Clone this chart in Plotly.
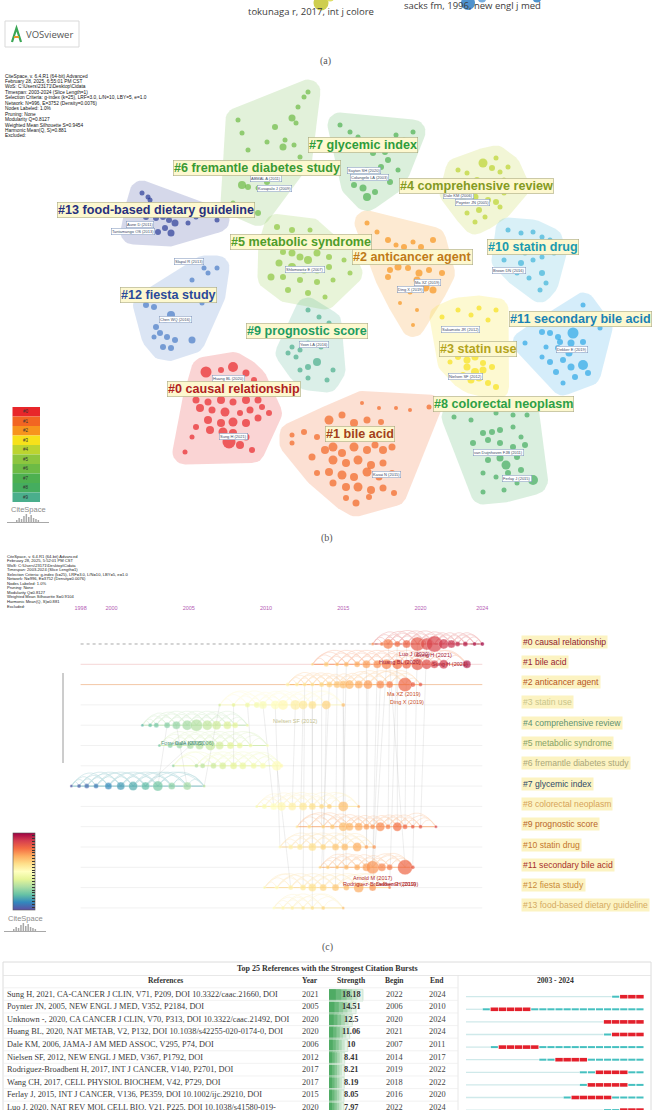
import numpy as np
import plotly.graph_objects as go
import plotly.colors as pc

W, H = 654, 1110

# ======================= DATA =======================
# (a) VOSviewer remnant at the top edge
vos_labels = ["tokunaga r, 2017, int j colore", "sacks fm, 1996, new engl j med"]
vos_label_x = [311, 472]
vos_label_y = [11, 5]
vos_node_x = [321, 330, 468, 482, 537]
vos_node_y = [3, -3, 3, -2, -2]
vos_node_size = [15, 9, 14, 9, 9]
vos_node_color = ["#c9c93c", "#dcdc5a", "#3b86c8", "#6aa6dc", "#3b86c8"]

# (b) CiteSpace cluster network
cl_names = ["#0 causal relationship", "#1 bile acid", "#2 anticancer agent", "#3 statin use",
            "#4 comprehensive review", "#5 metabolic syndrome", "#6 fremantle diabetes study",
            "#7 glycemic index", "#8 colorectal neoplasm", "#9 prognostic score", "#10 statin drug",
            "#11 secondary bile acid", "#12 fiesta study", "#13 food-based dietary guideline"]
cl_node_colors = ["#e8262a", "#f26522", "#f7941d", "#f7e11a", "#bcd430", "#8dc63f", "#6dbb45",
                  "#4db050", "#45ad5f", "#4aae8c", "#3fb3d8", "#2ca6e6", "#4a7cc6", "#2b3d97"]
cl_label_colors = ["#b01e1e", "#a3411a", "#c07a18", "#b3a41c", "#849a22", "#4f9c2a", "#3a9a34",
                   "#2e9c3c", "#2ea046", "#1f9c62", "#1a9ab0", "#1a82b4", "#2a4a9a", "#27307e"]
cl_label_x = [234, 360, 412, 478, 476, 301, 257, 363, 503, 307, 533, 580, 168, 156]
cl_label_y = [389, 434, 257, 349, 186, 242, 168, 145, 404, 331, 247, 319, 295, 210]

n0_x = [206, 221, 233, 246, 254, 196, 208, 221, 233, 246, 258, 269, 200, 212, 225, 240, 250, 262,
        208, 221, 233, 246, 258, 210, 223, 233, 246, 229, 240, 252, 192, 185, 196, 204, 250]
n0_y = [372, 370, 367, 373, 380, 400, 402, 400, 402, 400, 400, 413, 408, 410, 412, 413, 410, 407,
        420, 423, 422, 423, 418, 430, 432, 433, 437, 442, 445, 450, 437, 452, 427, 387, 390]
n0_s = [11, 6, 10, 7, 6, 7, 7, 8, 7, 8, 7, 6, 8, 7, 9, 6, 7, 6, 8, 8, 9, 8, 7, 8, 9, 8, 7, 13, 8, 6,
        5, 5, 6, 5, 5]
n1_x = [329, 342, 354, 367, 381, 292, 304, 317, 312, 325, 333, 342, 354, 367, 375, 383, 392, 333,
        346, 358, 371, 383, 317, 329, 342, 354, 367, 379, 392, 333, 346, 358, 371, 383, 394, 346,
        356, 369, 292, 410, 429, 396, 379, 362]
n1_y = [420, 415, 423, 420, 422, 435, 432, 437, 457, 450, 447, 453, 447, 450, 445, 450, 447, 460,
        463, 460, 465, 463, 473, 472, 475, 477, 472, 477, 473, 483, 487, 487, 490, 488, 493, 498,
        503, 497, 443, 410, 407, 408, 408, 403]
n1_s = [9, 7, 8, 7, 6, 5, 6, 6, 7, 8, 9, 8, 9, 8, 7, 8, 7, 9, 8, 9, 8, 7, 6, 8, 9, 8, 9, 7, 6, 7, 8,
        9, 8, 7, 6, 6, 7, 6, 5, 4, 5, 4, 4, 4]
n2_x = [367, 377, 388, 396, 404, 413, 421, 433, 390, 398, 408, 419, 429, 442, 417, 425, 433, 400,
        388, 410, 413, 417, 400]
n2_y = [223, 232, 240, 245, 247, 242, 247, 240, 270, 267, 268, 273, 270, 273, 280, 287, 290, 290,
        277, 292, 325, 310, 303]
n2_s = [5, 5, 6, 5, 6, 5, 6, 6, 6, 7, 6, 7, 6, 6, 7, 9, 7, 6, 6, 5, 4, 4, 4]
n3_x = [442, 458, 471, 479, 488, 496, 458, 467, 475, 483, 467, 475, 483, 492, 471, 479, 488, 496, 463, 450]
n3_y = [317, 310, 315, 308, 320, 310, 357, 360, 357, 363, 367, 372, 370, 367, 380, 378, 383, 387, 375, 362]
n3_s = [5, 5, 5, 5, 5, 5, 6, 7, 7, 6, 7, 8, 7, 6, 7, 7, 6, 6, 6, 5]
n4_x = [458, 467, 483, 492, 500, 477, 490, 504, 452, 463, 475, 488, 496, 500, 479, 467, 475, 485,
        504, 517, 496, 508]
n4_y = [170, 173, 163, 168, 172, 180, 183, 180, 193, 200, 197, 200, 202, 207, 210, 213, 222, 217,
        193, 187, 158, 167]
n4_s = [5, 5, 9, 6, 5, 6, 6, 5, 5, 6, 7, 6, 6, 5, 6, 5, 5, 5, 5, 5, 5, 5]
n5_x = [277, 292, 310, 271, 283, 292, 300, 308, 317, 329, 279, 292, 304, 317, 329, 271, 283, 300,
        317, 333, 288, 308, 325, 344, 350]
n5_y = [227, 230, 230, 247, 252, 253, 257, 260, 253, 257, 263, 267, 270, 270, 267, 277, 277, 280,
        282, 280, 290, 293, 297, 260, 273]
n5_s = [6, 6, 5, 6, 6, 7, 7, 8, 7, 6, 7, 8, 7, 7, 6, 7, 6, 6, 6, 5, 6, 6, 5, 5, 5]
n6_x = [238, 242, 248, 267, 275, 285, 292, 296, 298, 304, 308, 288, 300, 242, 248, 258, 267, 233,
        258, 254, 283, 294]
n6_y = [120, 133, 150, 142, 127, 140, 118, 123, 107, 97, 92, 170, 157, 185, 187, 188, 182, 203,
        213, 175, 147, 145]
n6_s = [5, 5, 5, 5, 6, 5, 7, 5, 5, 5, 5, 6, 5, 8, 6, 5, 6, 5, 6, 5, 7, 5]
n7_x = [340, 350, 358, 373, 385, 388, 381, 367, 358, 354, 363, 367, 375, 390, 398, 404, 413, 396]
n7_y = [125, 132, 137, 153, 152, 160, 167, 170, 177, 185, 188, 197, 192, 182, 170, 140, 132, 135]
n7_s = [5, 5, 5, 6, 6, 6, 6, 6, 5, 6, 7, 8, 6, 6, 5, 5, 5, 5]
n8_x = [454, 471, 496, 513, 527, 483, 492, 500, 513, 521, 473, 488, 500, 513, 525, 488, 500, 506,
        517, 483, 496, 508, 521, 533, 483, 504, 517]
n8_y = [417, 420, 413, 415, 415, 433, 432, 430, 427, 437, 443, 440, 443, 447, 445, 460, 458, 465,
        457, 473, 477, 473, 470, 480, 492, 490, 483]
n8_s = [5, 5, 5, 5, 5, 6, 6, 6, 5, 5, 6, 6, 6, 6, 6, 6, 7, 9, 6, 5, 5, 6, 6, 10, 5, 5, 5]
n9_x = [308, 319, 329, 292, 300, 308, 317, 308, 296, 288, 321, 333, 327, 308, 300]
n9_y = [310, 317, 323, 347, 350, 343, 362, 367, 357, 353, 347, 370, 380, 378, 370]
n9_s = [5, 5, 5, 5, 5, 5, 8, 6, 5, 5, 5, 5, 5, 5, 5]
n10_x = [508, 521, 533, 542, 550, 513, 525, 542, 554, 504, 521, 533, 542, 529, 517, 546, 540]
n10_y = [230, 233, 232, 237, 240, 250, 253, 257, 253, 260, 263, 260, 273, 278, 273, 283, 290]
n10_s = [5, 5, 5, 5, 5, 5, 5, 5, 5, 5, 6, 5, 6, 5, 5, 5, 5]
n11_x = [583, 600, 542, 550, 558, 573, 560, 571, 583, 546, 558, 569, 583, 525, 542, 550, 563, 571,
         583, 556, 575, 588, 563]
n11_y = [305, 328, 332, 333, 337, 333, 342, 343, 342, 347, 348, 353, 350, 343, 357, 362, 360, 367,
         365, 372, 377, 373, 383]
n11_s = [5, 5, 6, 6, 6, 11, 6, 7, 6, 5, 6, 7, 6, 5, 5, 6, 6, 7, 10, 6, 6, 6, 5]
n12_x = [204, 208, 217, 192, 146, 154, 171, 165, 156, 160, 167, 175, 163, 171, 192, 202, 213, 154]
n12_y = [268, 273, 268, 280, 305, 307, 315, 320, 327, 333, 337, 340, 347, 348, 340, 303, 295, 337]
n12_s = [5, 5, 5, 5, 6, 6, 8, 6, 6, 6, 6, 6, 6, 6, 7, 5, 5, 5]
n13_x = [142, 148, 150, 138, 146, 156, 163, 169, 175, 165, 158, 171, 188, 196, 217, 133]
n13_y = [193, 197, 200, 207, 217, 218, 217, 220, 223, 228, 232, 233, 223, 217, 220, 232]
n13_s = [5, 5, 5, 5, 6, 6, 6, 6, 7, 6, 6, 7, 5, 5, 5, 5]

net_lab_text = ["ABMAL A (2011)", "Kusapalo J (2009)", "Sayton SH (2020)", "Colangelo LA (2003)",
                "Dale KM (2006)", "Poynter JN (2005)", "Aune D (2011)", "Tantamango OS (2013)",
                "Slapal R (2013)", "Shlomowitz E (2007)", "Ma XZ (2019)", "Ding X (2019)",
                "Brown DN (2016)", "Chen WQ (2016)", "Yoon LA (2016)", "Sakamoto JR (2012)",
                "Dekker E (2019)", "Nielsen SF (2012)", "Huang BL (2020)", "Sung H (2021)",
                "Kasai N (2015)", "van Duijnhoven FJB (2011)", "Ferlay J (2015)"]
net_lab_x = [266, 274, 364, 369, 458, 472, 140, 133, 189, 305, 427, 410, 509, 175, 314, 460, 572,
             465, 228, 233, 386, 498, 517]
net_lab_y = [178, 188, 170, 177, 195, 202, 224, 231, 261, 269, 282, 289, 270, 319, 344, 329, 349,
             376, 378, 436, 474, 452, 478]

# (c) timeline view
tl_labels = cl_names
tl_label_colors = ["#8e1a2e", "#962230", "#b5541e", "#c9c58a", "#5e9272", "#86a266", "#aaa77a",
                   "#2e4a68", "#d6a35a", "#b8662a", "#c4762c", "#a8302a", "#c98a3a", "#d4aa62"]
tl_year_ticks = [1998, 2000, 2005, 2010, 2015, 2020, 2024]
row0_years = [2016.9, 2017.5, 2017.9, 2018.5, 2019.1, 2019.8, 2020.4, 2020.9, 2021.5, 2022.0, 2022.4, 2022.9, 2023.5, 2024.0]
row0_sizes = [3, 4, 10, 6, 8, 14, 12, 16, 10, 8, 5, 5, 4, 4]
row1_years = [2013.0, 2013.9, 2014.6, 2015.2, 2015.9, 2016.5, 2017.2, 2017.8, 2018.5, 2019.1, 2019.8, 2020.4, 2020.9, 2021.5, 2023.0]
row1_sizes = [3, 5, 4, 5, 6, 8, 8, 10, 10, 9, 12, 10, 8, 9, 8]
row2_years = [2011.4, 2012.0, 2012.5, 2013.0, 2013.6, 2014.1, 2014.6, 2015.0, 2015.4, 2016.0, 2016.6, 2017.4, 2018.0, 2019.0, 2019.5, 2020.0]
row2_sizes = [4, 4, 4, 4, 5, 6, 7, 8, 9, 8, 9, 8, 7, 14, 5, 4]
row3_years = [2007.0, 2007.9, 2008.8, 2009.4, 2009.8, 2010.6, 2011.1, 2011.9, 2012.4, 2013.0, 2013.9, 2015.0]
row3_sizes = [3, 4, 5, 6, 8, 9, 10, 10, 9, 8, 9, 4]
row4_years = [2002.0, 2002.5, 2002.9, 2003.6, 2004.2, 2004.9, 2005.5, 2006.2, 2006.8, 2007.5, 2008.0, 2008.8]
row4_sizes = [3, 4, 5, 6, 8, 10, 12, 10, 9, 8, 6, 3]
row5_years = [2003.1, 2003.8, 2004.4, 2005.1, 2005.7, 2006.4, 2007.0, 2007.7, 2008.3, 2009.0, 2010.1]
row5_sizes = [3, 5, 6, 7, 8, 10, 8, 7, 6, 4, 3]
row6_years = [2004.0, 2005.5, 2005.9, 2006.6, 2007.2, 2007.9, 2008.5, 2009.2, 2009.8, 2010.7, 2011.0]
row6_sizes = [3, 4, 5, 6, 7, 7, 7, 6, 6, 10, 4]
row7_years = [1997.4, 1997.9, 1998.4, 1999.0, 1999.8, 2000.6, 2001.4, 2002.2, 2003.0, 2003.9, 2004.9, 2006.0]
row7_sizes = [3, 4, 5, 5, 7, 8, 9, 8, 10, 7, 8, 3]
row8_years = [2009.4, 2009.9, 2010.5, 2011.0, 2011.7, 2012.4, 2013.0, 2013.6, 2014.1, 2015.0, 2016.0]
row8_sizes = [3, 5, 7, 9, 8, 8, 7, 5, 5, 10, 3]
row9_years = [2012.0, 2012.8, 2013.7, 2014.3, 2015.0, 2015.4, 2016.0, 2016.5, 2016.9, 2017.4, 2017.9, 2018.5, 2019.0, 2019.5, 2020.0, 2021.0]
row9_sizes = [3, 4, 4, 5, 9, 8, 8, 6, 5, 9, 5, 9, 5, 4, 4, 3]
row10_years = [2010.9, 2011.6, 2012.2, 2013.0, 2013.7, 2014.5, 2015.1, 2015.9, 2016.5, 2017.0]
row10_sizes = [3, 5, 6, 8, 6, 7, 7, 9, 4, 4]
row11_years = [2013.5, 2014.0, 2014.6, 2015.2, 2015.9, 2016.5, 2016.9, 2017.5, 2018.0, 2019.0, 2019.5]
row11_sizes = [3, 4, 4, 5, 6, 8, 13, 8, 6, 15, 4]
row12_years = [2009.9, 2010.7, 2011.6, 2012.4, 2013.0, 2013.7, 2014.5, 2015.2, 2016.0, 2016.9, 2018.0]
row12_sizes = [3, 4, 5, 6, 8, 7, 7, 6, 10, 7, 3]
row13_years = [2010.5, 2011.1, 2011.7, 2012.4, 2013.0, 2013.7, 2015.0]
row13_sizes = [3, 4, 4, 4, 4, 4, 3]

link_from_row = [2, 2, 2, 2, 2, 2, 2, 1, 1, 1, 1, 1, 0, 0, 0, 0, 3, 3, 3, 3, 3, 2, 2, 1, 0, 3, 3, 4, 4, 3, 5, 3, 3, 6]
link_from_year = [2013.6, 2014.1, 2015.0, 2016.0, 2016.6, 2017.4, 2018.0, 2015.2, 2016.5, 2017.2, 2017.8, 2018.5,
                  2017.9, 2019.1, 2019.8, 2020.4, 2013.0, 2013.9, 2011.9, 2012.4, 2015.0, 2012.5, 2013.0, 2014.6,
                  2018.5, 2007.9, 2008.8, 2004.2, 2003.6, 2007.0, 2005.1, 2009.8, 2010.6, 2010.7]
link_to_row = [9, 11, 12, 9, 11, 11, 9, 8, 10, 11, 12, 9, 11, 9, 11, 9, 10, 12, 8, 10, 11, 12, 13, 12, 12, 6, 5, 7, 7, 7, 7, 8, 10, 12]
link_to_year = [2013.6, 2013.6, 2015.0, 2016.0, 2016.5, 2016.9, 2017.9, 2015.0, 2016.5, 2016.9, 2016.9, 2018.5,
                2019.0, 2019.0, 2019.5, 2020.0, 2013.0, 2013.7, 2011.7, 2012.2, 2015.2, 2012.4, 2013.0, 2014.5,
                2018.0, 2007.9, 2009.0, 2004.9, 2003.0, 2006.0, 2002.2, 2010.5, 2010.9, 2011.6]

tl_node_lab_text = ["Luo J (2020)", "Sung H (2021)", "Huang BL (2020)", "Sung H (2021)", "Ma XZ (2019)",
                    "Ding X (2019)", "Nielsen SF (2012)", "Forrest JA (2005)", "Dale KM (2006)",
                    "Arnold M (2017)", "Rodriguez-Broadbent H (2019)", "Dekker E (2019)"]
tl_node_lab_year = [2019.6, 2020.9, 2018.7, 2021.9, 2018.9, 2019.1, 2011.9, 2004.6, 2005.4, 2016.9, 2017.4, 2018.4]
tl_node_lab_row = [0.5, 0.55, 0.9, 1.0, 2.46, 2.86, 3.79, 4.88, 4.88, 11.53, 11.83, 11.83]
tl_node_lab_color = ["#a3203a", "#a3203a", "#a3203a", "#a3203a", "#c8502a", "#c8502a", "#c4c08e",
                     "#5a9a84", "#5a9a84", "#b02a2a", "#b02a2a", "#b02a2a"]

# table: top references with citation bursts
ref_titles = ["Sung H, 2021, CA-CANCER J CLIN, V71, P209, DOI 10.3322/caac.21660, DOI",
              "Poynter JN, 2005, NEW ENGL J MED, V352, P2184, DOI",
              "Unknown -, 2020, CA CANCER J CLIN, V70, P313, DOI 10.3322/caac.21492, DOI",
              "Huang BL, 2020, NAT METAB, V2, P132, DOI 10.1038/s42255-020-0174-0, DOI",
              "Dale KM, 2006, JAMA-J AM MED ASSOC, V295, P74, DOI",
              "Nielsen SF, 2012, NEW ENGL J MED, V367, P1792, DOI",
              "Rodriguez-Broadbent H, 2017, INT J CANCER, V140, P2701, DOI",
              "Wang CH, 2017, CELL PHYSIOL BIOCHEM, V42, P729, DOI",
              "Ferlay J, 2015, INT J CANCER, V136, PE359, DOI 10.1002/ijc.29210, DOI",
              "Luo J, 2020, NAT REV MOL CELL BIO, V21, P225, DOI 10.1038/s41580-019-"]
ref_year = [2021, 2005, 2020, 2020, 2006, 2012, 2017, 2017, 2015, 2020]
ref_strength = [18.18, 14.51, 12.5, 11.06, 10, 8.41, 8.21, 8.19, 8.05, 7.97]
ref_begin = [2022, 2006, 2020, 2021, 2007, 2014, 2019, 2018, 2016, 2022]
ref_end = [2024, 2010, 2024, 2024, 2011, 2017, 2022, 2022, 2020, 2024]
burst_first, burst_last = 2003, 2024

header_b = ["CiteSpace, v. 6.4.R1 (64-bit) Advanced", "February 28, 2025, 6:55:01 PM CST",
            "WoS: C:\\Users\\23171\\Desktop\\Cidata", "Timespan: 2003-2024 (Slice Length=1)",
            "Selection Criteria: g-index (k=25), LRF=3.0, L/N=10, LBY=5, e=1.0",
            "Network: N=996, E=3752 (Density=0.0076)", "Nodes Labeled: 1.0%", "Pruning: None",
            "Modularity Q=0.8127", "Weighted Mean Silhouette S=0.9454", "Harmonic Mean(Q, S)=0.881",
            "Excluded:"]
header_c = ["CiteSpace, v. 6.4.R1 (64-bit) Advanced", "February 28, 2025, 5:52:01 PM CST",
            "WoS: C:\\Users\\23171\\Desktop\\Cidata", "Timespan: 2003-2024 (Slice Length=1)",
            "Selection Criteria: g-index (k=25), LRF=3.0, L/N=10, LBY=5, e=1.0",
            "Network: N=996, E=3752 (Density=0.0076)", "Nodes Labeled: 1.0%", "Pruning: None",
            "Modularity Q=0.8127", "Weighted Mean Silhouette S=0.9104", "Harmonic Mean(Q, S)=0.881",
            "Excluded:"]

# ======================= BUILD =======================
fig = go.Figure()
ANN, SH = [], []


def txt(text, x, y, size, color, family="Liberation Sans", xanchor="center", xref="x", yref="y", **kw):
    ANN.append(dict(text=text, x=x, y=y, xref=xref, yref=yref, showarrow=False,
                    font=dict(size=size, color=color, family=family),
                    xanchor=xanchor, yanchor="middle", **kw))


def rgba(hx, a):
    hx = hx.lstrip("#")
    r, g, b = int(hx[0:2], 16), int(hx[2:4], 16), int(hx[4:6], 16)
    return f"rgba({r},{g},{b},{a})"


def rounded_hull(xs, ys, ss, pad):
    ang = np.linspace(0, 2 * np.pi, 28, endpoint=False)
    pts = set()
    for x, y, s in zip(xs, ys, ss):
        r = pad + s / 2
        for a in ang:
            pts.add((round(x + r * np.cos(a), 2), round(y + r * np.sin(a), 2)))
    pts = sorted(pts)

    def cross(o, a, b):
        return (a[0] - o[0]) * (b[1] - o[1]) - (a[1] - o[1]) * (b[0] - o[0])
    lower, upper = [], []
    for p in pts:
        while len(lower) >= 2 and cross(lower[-2], lower[-1], p) <= 0:
            lower.pop()
        lower.append(p)
    for p in reversed(pts):
        while len(upper) >= 2 and cross(upper[-2], upper[-1], p) <= 0:
            upper.pop()
        upper.append(p)
    h = lower[:-1] + upper[:-1]
    h.append(h[0])
    return [p[0] for p in h], [p[1] for p in h]


# ---------- (a) remnant ----------
fig.add_trace(go.Scatter(x=vos_node_x, y=vos_node_y, mode="markers", xaxis="x", yaxis="y",
                         marker=dict(size=vos_node_size, color=vos_node_color, opacity=0.9, line=dict(width=0)),
                         hoverinfo="skip"))
for t, x, y in zip(vos_labels, vos_label_x, vos_label_y):
    txt(t, x, y, 9.5, "#3c3c3c", family="Open Sans")
SH.append(dict(type="rect", xref="x", yref="y", x0=5, x1=79, y0=21, y1=47,
               line=dict(color="#d9d9d9", width=1), fillcolor="white", layer="below"))
SH.append(dict(type="path", xref="x", yref="y", path="M 12 42 L 16.5 28 L 21 42",
               line=dict(color="#3aa655", width=2.2)))
SH.append(dict(type="path", xref="x", yref="y", path="M 14 37 L 19 37",
               line=dict(color="#e89a2c", width=2)))
txt("VOSviewer", 49, 34, 9.5, "#555555", family="Open Sans")
txt("(a)", 325, 61, 10, "#555555", family="Liberation Serif")

# ---------- (b) network ----------
for i, line in enumerate(header_b):
    txt(line, 3, 76 + 5.45 * i, 4.8, "#111111", xanchor="left")

cl_x = [n0_x, n1_x, n2_x, n3_x, n4_x, n5_x, n6_x, n7_x, n8_x, n9_x, n10_x, n11_x, n12_x, n13_x]
cl_y = [n0_y, n1_y, n2_y, n3_y, n4_y, n5_y, n6_y, n7_y, n8_y, n9_y, n10_y, n11_y, n12_y, n13_y]
cl_s = [n0_s, n1_s, n2_s, n3_s, n4_s, n5_s, n6_s, n7_s, n8_s, n9_s, n10_s, n11_s, n12_s, n13_s]

for k in range(len(cl_names)):
    hx, hy = rounded_hull(cl_x[k], cl_y[k], cl_s[k], 10)
    fig.add_trace(go.Scatter(x=hx, y=hy, mode="lines", fill="toself", line=dict(width=0),
                             fillcolor=rgba(cl_node_colors[k], 0.2), xaxis="x", yaxis="y",
                             hoverinfo="skip"))
for k in range(len(cl_names)):
    fig.add_trace(go.Scatter(x=cl_x[k], y=cl_y[k], mode="markers", xaxis="x", yaxis="y",
                             marker=dict(size=cl_s[k], color=cl_node_colors[k], line=dict(width=0)),
                             hoverinfo="skip"))
for t, x, y in zip(net_lab_text, net_lab_x, net_lab_y):
    txt(t, x, y, 4, "#3a4a66", bgcolor="white", bordercolor="#7890b8", borderwidth=0.5, borderpad=0.5)
for k in range(len(cl_names)):
    txt("<b>" + cl_names[k] + "</b>", cl_label_x[k], cl_label_y[k], 12.6, cl_label_colors[k],
        family="Liberation Sans Narrow, Arial Narrow, Liberation Sans",
        bgcolor="#fdf8cf", bordercolor="rgba(150,150,110,0.8)", borderwidth=0.6, borderpad=0.5)

# legend bands
for i in range(10):
    SH.append(dict(type="rect", xref="x", yref="y", x0=12.5, x1=40, y0=407 + 9.5 * i, y1=407 + 9.5 * (i + 1),
                   line=dict(width=0), fillcolor=cl_node_colors[i]))
    txt(f"#{i}", 26, 407 + 9.5 * i + 4.75, 4.5, "#333333")


def citespace_logo(cx, cy):
    txt("CiteSpace", cx, cy, 7.5, "#8c8c8c")
    hts = [2, 4, 3, 6, 8, 5, 7, 4, 3, 2]
    for j, hgt in enumerate(hts):
        SH.append(dict(type="rect", xref="x", yref="y", x0=cx - 12 + 2.4 * j, x1=cx - 10.5 + 2.4 * j,
                       y0=cy + 13, y1=cy + 13 - hgt, line=dict(width=0), fillcolor="#a8a8a8"))
    SH.append(dict(type="line", xref="x", yref="y", x0=cx - 21, x1=cx + 21, y0=cy + 13.5, y1=cy + 13.5,
                   line=dict(color="#a8a8a8", width=1)))


citespace_logo(28, 509)
txt("(b)", 327, 538, 10, "#555555", family="Liberation Serif")

# ---------- (c) timeline ----------
for i, line in enumerate(header_c):
    txt(line, 5, 556 + 4.55 * i, 4.1, "#222222", xanchor="left")

scale = pc.make_colorscale(pc.diverging.Spectral[::-1])
row_years = [row0_years, row1_years, row2_years, row3_years, row4_years, row5_years, row6_years,
             row7_years, row8_years, row9_years, row10_years, row11_years, row12_years, row13_years]
row_sizes = [row0_sizes, row1_sizes, row2_sizes, row3_sizes, row4_sizes, row5_sizes, row6_sizes,
             row7_sizes, row8_sizes, row9_sizes, row10_sizes, row11_sizes, row12_sizes, row13_sizes]
CMIN, CMAX = 1997, 2024
PXY, ROWH = 15.45, 20.3
row_line_colors = ["rgba(160,160,160,0.9)", "#f6d6d6", "#f3c7a6"] + ["#f1f1f1"] * 11
for k in range(len(row_years)):
    fig.add_trace(go.Scatter(x=[tl_year_ticks[0], tl_year_ticks[-1]], y=[k, k], mode="lines",
                             xaxis="x2", yaxis="y2", hoverinfo="skip",
                             line=dict(color=row_line_colors[k], width=1, dash="dot" if k == 0 else "solid")))
# inter-cluster links
lx, ly = [], []
for ra, ya, rb, yb in zip(link_from_row, link_from_year, link_to_row, link_to_year):
    lx += [ya, yb, None]
    ly += [ra, rb, None]
fig.add_trace(go.Scatter(x=lx, y=ly, mode="lines", xaxis="x2", yaxis="y2", hoverinfo="skip",
                         line=dict(color="rgba(160,160,160,0.3)", width=0.6)))
# intra-cluster arcs and the row spine joining the nodes
tt = np.linspace(0, 1, 12)
for k, ys in enumerate(row_years):
    ax_, ay_ = [], []
    for i in range(len(ys)):
        for j in range(i + 1, min(i + 5, len(ys))):
            dxp = (ys[j] - ys[i]) * PXY
            hpx = min(2 + 0.3 * dxp, 14)
            ax_ += list(ys[i] + (ys[j] - ys[i]) * tt) + [None]
            ay_ += list(k - hpx / ROWH * 4 * tt * (1 - tt)) + [None]
    mean_t = (np.mean(ys) - CMIN) / (CMAX - CMIN)
    col = pc.sample_colorscale(scale, [mean_t])[0]
    fig.add_trace(go.Scatter(x=ax_, y=ay_, mode="lines", xaxis="x2", yaxis="y2", hoverinfo="skip",
                             opacity=0.35, line=dict(color=col, width=0.6)))
    fig.add_trace(go.Scatter(x=[min(ys), max(ys)], y=[k, k], mode="lines", xaxis="x2", yaxis="y2",
                             hoverinfo="skip", opacity=0.7, line=dict(color=col, width=1)))
# nodes
all_x, all_y, all_s = [], [], []
for k, (ys, ss) in enumerate(zip(row_years, row_sizes)):
    all_x += ys
    all_y += [k] * len(ys)
    all_s += ss
fig.add_trace(go.Scatter(
    x=all_x, y=all_y, mode="markers", xaxis="x2", yaxis="y2", hoverinfo="skip",
    marker=dict(size=all_s, color=all_x, colorscale=scale, cmin=CMIN, cmax=CMAX,
                line=dict(width=0.5, color="rgba(255,255,255,0.6)"), showscale=True,
                colorbar=dict(x=12.5 / W, xanchor="left", y=1 - 833 / H, yanchor="top",
                              len=77 / H, lenmode="fraction", thickness=22, thicknessmode="pixels",
                              outlinewidth=0.6, outlinecolor="#555", ticks="inside", ticklen=3,
                              tickcolor="#333", tickvals=list(range(1998, 2025)),
                              showticklabels=False, xpad=0, ypad=0))))
for t, yr, rw, c in zip(tl_node_lab_text, tl_node_lab_year, tl_node_lab_row, tl_node_lab_color):
    txt(t, yr, rw, 5.5, c, xref="x2", yref="y2")
for k, name in enumerate(tl_labels):
    txt(name, 521, k - 0.12, 8.6, tl_label_colors[k], xanchor="left", xref="x", yref="y2",
        bgcolor="#fcf3c2", borderpad=1)
SH.append(dict(type="line", xref="x", yref="y", x0=63, x1=63, y0=673, y1=763,
               line=dict(color="#9a9a9a", width=1)))
citespace_logo(25, 918)
txt("(c)", 327, 947, 10, "#555555", family="Liberation Serif")

# ---------- table ----------
SER = "Liberation Serif"
SH.append(dict(type="rect", xref="x", yref="y", x0=3, x1=651, y0=962, y1=1116,
               line=dict(color="#dcdcdc", width=1)))
SH.append(dict(type="line", xref="x", yref="y", x0=3, x1=651, y0=975.5, y1=975.5,
               line=dict(color="#e2e2e2", width=0.8)))
SH.append(dict(type="line", xref="x", yref="y", x0=458, x1=458, y0=975.5, y1=1116,
               line=dict(color="#e2e2e2", width=0.8)))
for i in range(-1, len(ref_titles)):
    SH.append(dict(type="line", xref="x", yref="y3", x0=3, x1=458, y0=i + 0.29, y1=i + 0.29,
                   line=dict(color="#ececec", width=0.7)))
txt("<b>Top 25 References with the Strongest Citation Bursts</b>", 327, -2.2, 8, "#333333",
    family=SER, yref="y3")
for t, x in zip(["References", "Year", "Strength", "Begin", "End", "2003 - 2024"],
                [165, 310, 351, 394, 437, 555]):
    txt("<b>" + t + "</b>", x, -1.25, 7.6, "#333333", family=SER, yref="y3")

rows_idx = list(range(len(ref_titles)))
# strength bars with a stepped gradient
fracs = [1.0, 0.84, 0.68, 0.52, 0.36, 0.2]
bar_cols = ["#e6f3e8", "#c8e5cd", "#a9d6b1", "#88c795", "#69b87a", "#4fab64"]
for f, c in zip(fracs, bar_cols):
    fig.add_trace(go.Bar(x=[s * f for s in ref_strength], y=[i - 0.12 for i in rows_idx], orientation="h",
                         xaxis="x4", yaxis="y3", width=0.93, hoverinfo="skip",
                         marker=dict(color=c, line=dict(width=0.6 if f == 1.0 else 0,
                                                        color="#b5dbbd"))))
for i in rows_idx:
    txt(ref_titles[i], 5, i - 0.21, 8.3, "#3a3a3a", family=SER, xanchor="left", yref="y3")
    txt(str(ref_year[i]), 310, i - 0.21, 8.3, "#444444", family=SER, yref="y3")
    txt("<b>" + str(ref_strength[i]) + "</b>", 351, i - 0.21, 8.3, "#333333", family=SER, yref="y3")
    txt(str(ref_begin[i]), 394, i - 0.21, 8.3, "#444444", family=SER, yref="y3")
    txt(str(ref_end[i]), 437, i - 0.21, 8.3, "#444444", family=SER, yref="y3")

bx0, by0, bx1, by1, bx2, by2 = [], [], [], [], [], []
for i in rows_idx:
    if ref_year[i] > burst_first:
        bx0 += [burst_first, ref_year[i], None]
        by0 += [i, i, None]
    for yr in range(max(ref_year[i], burst_first), burst_last + 1):
        if ref_begin[i] <= yr <= ref_end[i]:
            bx2 += [yr + 0.04, yr + 0.96, None]
            by2 += [i, i, None]
        else:
            bx1 += [yr + 0.06, yr + 0.94, None]
            by1 += [i, i, None]
fig.add_trace(go.Scatter(x=bx0, y=by0, mode="lines", xaxis="x3", yaxis="y3", hoverinfo="skip",
                         line=dict(color="#cfe9ea", width=1.3)))
fig.add_trace(go.Scatter(x=bx1, y=by1, mode="lines", xaxis="x3", yaxis="y3", hoverinfo="skip",
                         line=dict(color="#45c0c0", width=2)))
fig.add_trace(go.Scatter(x=bx2, y=by2, mode="lines", xaxis="x3", yaxis="y3", hoverinfo="skip",
                         line=dict(color="#e3202c", width=3.6)))

# ======================= LAYOUT =======================
hid = dict(visible=False, showgrid=False, zeroline=False, fixedrange=True)
fig.update_layout(
    width=W, height=H, margin=dict(l=0, r=0, t=0, b=0), template="none",
    paper_bgcolor="white", plot_bgcolor="rgba(0,0,0,0)", showlegend=False, barmode="overlay",
    xaxis=dict(domain=[0, 1], range=[0, W], anchor="y", **hid),
    yaxis=dict(domain=[0, 1], range=[H, 0], anchor="x", **hid),
    xaxis2=dict(domain=[18.8 / W, 621.35 / W], range=[1994, 2033], anchor="y2", side="top",
                showgrid=False, zeroline=False, showline=False, ticks="", fixedrange=True,
                tickvals=tl_year_ticks, ticktext=[str(v) for v in tl_year_ticks],
                tickfont=dict(size=5.5, color="#b45ab4", family="Liberation Sans")),
    yaxis2=dict(domain=[1 - 925 / H, 1 - 612 / H], range=[13.842, -1.576], anchor="x2", **hid),
    xaxis3=dict(domain=[466 / W, 644 / W], range=[burst_first, burst_last + 1], anchor="y3", **hid),
    yaxis3=dict(domain=[0, 155 / H], range=[8.992, -3.310], anchor="x3", **hid),
    xaxis4=dict(domain=[329 / W, 400 / W], range=[0, 37.97], anchor="y3", **hid),
    annotations=ANN, shapes=SH,
)
fig.write_html("out.html", config={"displayModeBar": False},
               post_script="document.body.style.margin='0px';document.body.style.padding='0px';")
